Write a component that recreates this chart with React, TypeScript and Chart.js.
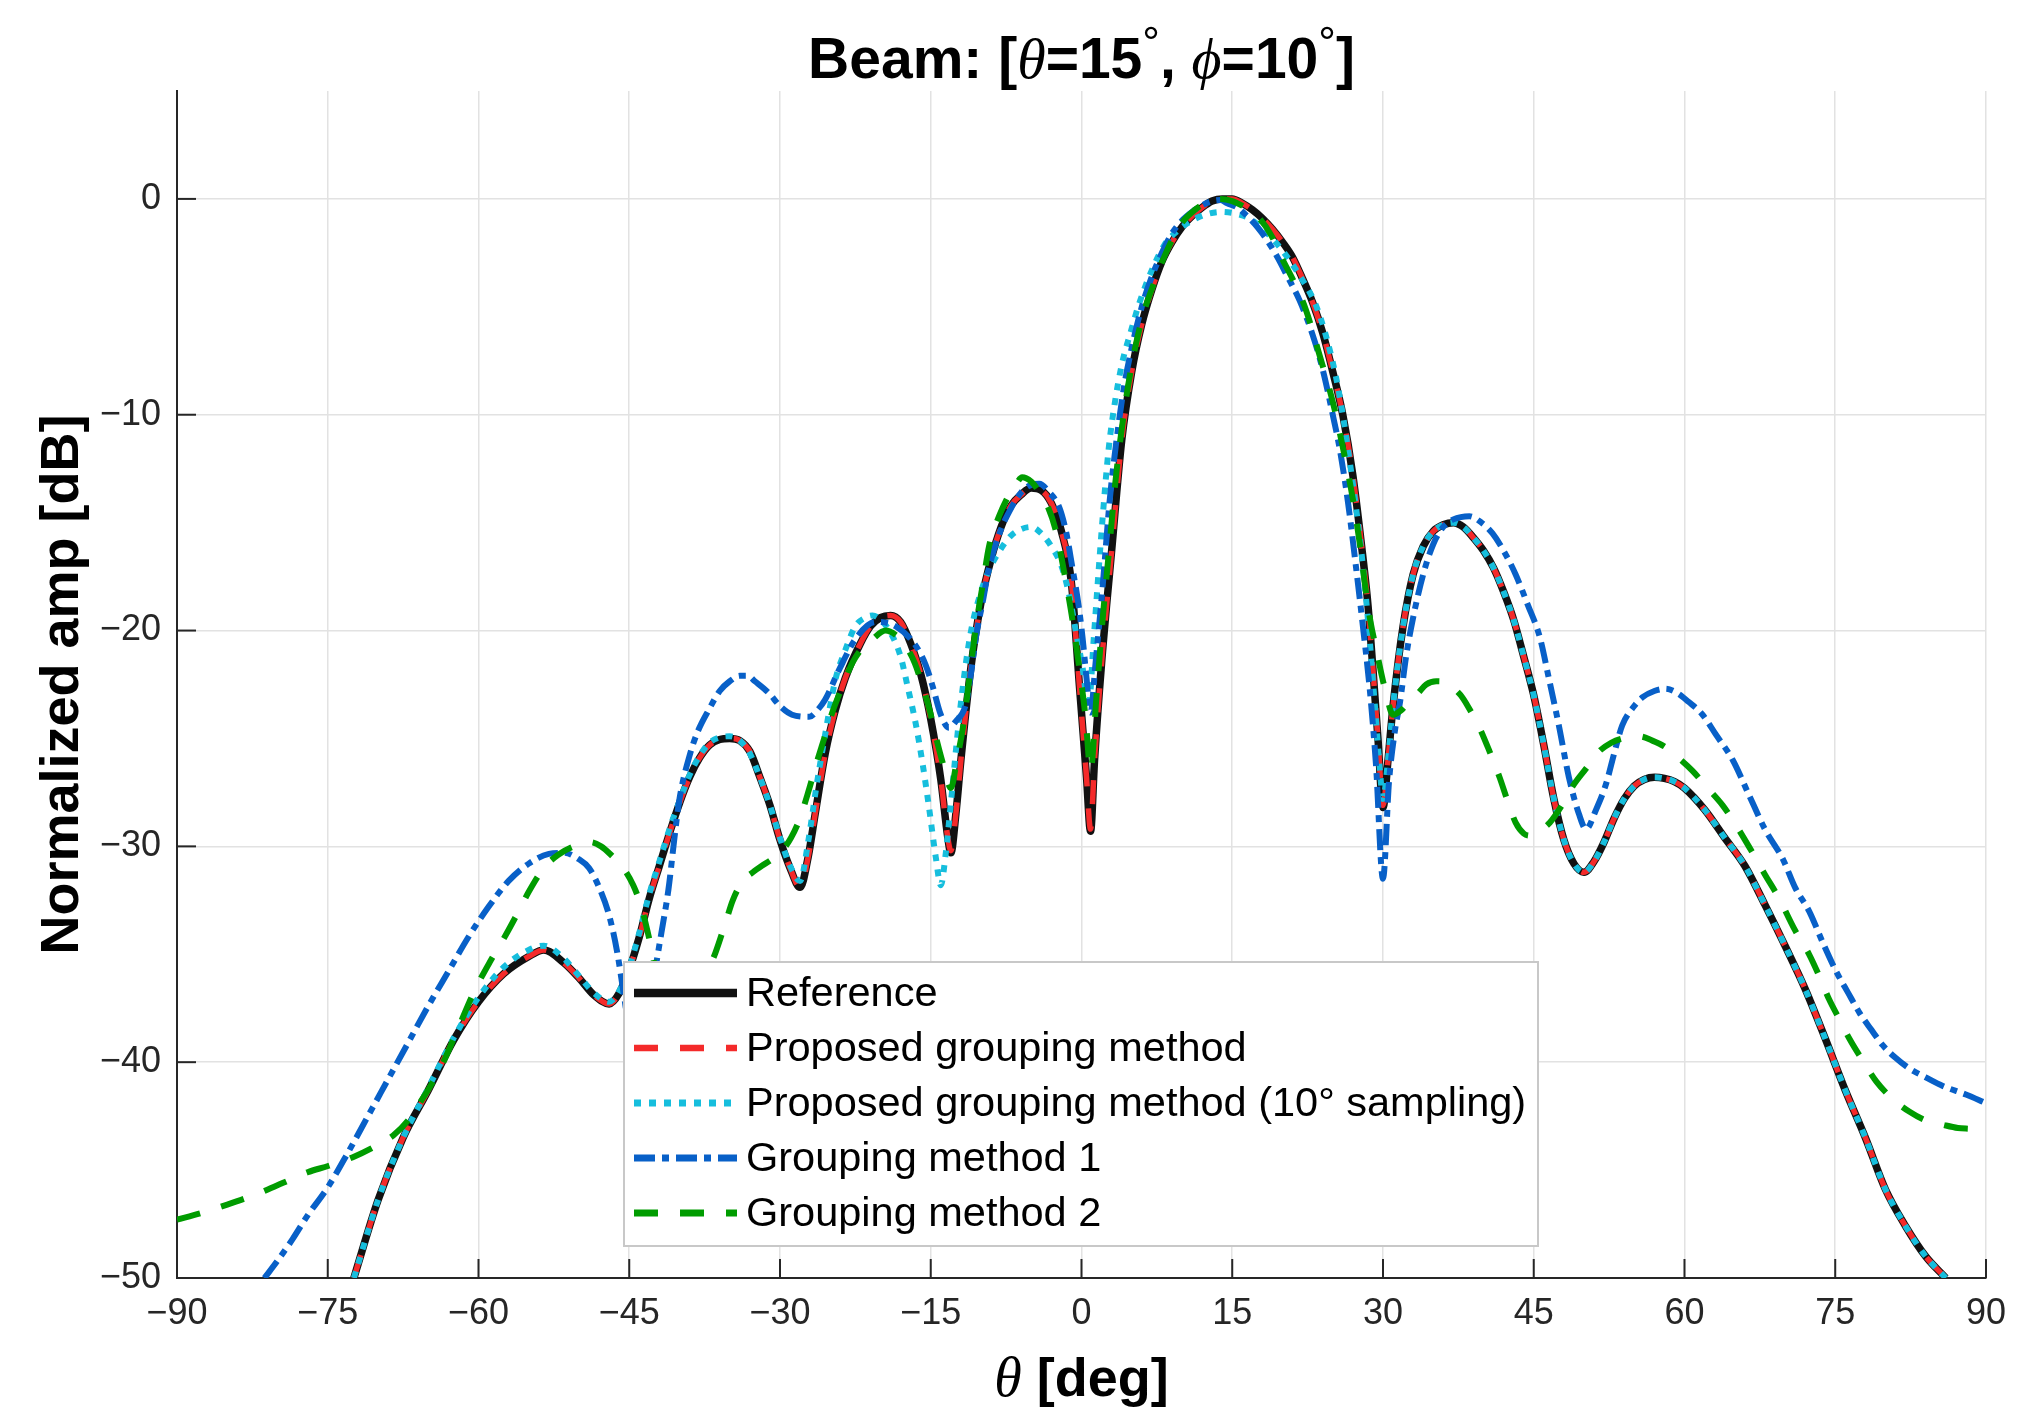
import React, { useEffect, useRef } from "react";
import { Chart, registerables } from "chart.js";
import type { Plugin } from "chart.js";

Chart.register(...registerables);

// axis ticks
const thetaTicks = [-90, -75, -60, -45, -30, -15, 0, 15, 30, 45, 60, 75, 90];
const dbTicks = [-50, -40, -30, -20, -10, 0];

const seriesLabels = [
  "Reference",
  "Proposed grouping method",
  "Proposed grouping method (10° sampling)",
  "Grouping method 1",
  "Grouping method 2",
];

// [theta deg, normalized amp dB]
const referenceCurve = [
  [-72.4, -50], [-70, -46.4], [-67.5, -43.5], [-65, -41.3], [-62.5, -39.0], [-60, -37.2], [-57.5, -35.9], [-55, -35.1],
  [-53.5, -34.8], [-51.5, -35.4], [-50, -36.1], [-48.5, -36.9], [-47, -37.3], [-46, -36.8], [-45, -35.7], [-44, -34.2],
  [-43, -32.4], [-42, -30.9], [-41, -29.4], [-40, -28.0], [-39, -26.8], [-38, -25.9], [-37, -25.3], [-36, -25.05],
  [-35, -25.0], [-34, -25.1], [-33, -25.6], [-32, -26.8], [-31, -28.1], [-30, -29.7], [-29, -31.0], [-28, -31.9],
  [-27.2, -30.5], [-26.5, -28.5], [-25.5, -25.7], [-24.5, -23.7], [-23.5, -22.2], [-22, -20.6], [-21, -19.8], [-20, -19.4],
  [-19, -19.3], [-18, -19.6], [-17, -20.6], [-16, -22.0], [-15, -24.1], [-14, -26.9], [-13.3, -29.6], [-13, -30.3],
  [-12.5, -28.5], [-12, -26.0], [-11, -21.7], [-10, -18.7], [-9, -16.7], [-8, -15.2], [-7, -14.2], [-6, -13.7],
  [-5, -13.4], [-4, -13.5], [-3, -14.1], [-2, -15.4], [-1, -17.8], [-0.2, -22.6], [0.5, -26.8], [0.9, -29.3],
  [1.3, -26.0], [2, -21.5], [3, -16.3], [4, -11.2], [5, -8.0], [6, -5.8], [7, -4.2], [8, -2.9],
  [9, -2.0], [10, -1.3], [11, -0.8], [12, -0.4], [13, -0.1], [14, 0], [15, 0], [16, -0.2],
  [17, -0.5], [18, -0.9], [19, -1.4], [20, -2.0], [21, -2.7], [22, -3.7], [23, -4.8], [24, -6.2],
  [25, -8.0], [26, -10.0], [27, -12.8], [28, -16.6], [28.5, -18.8], [29, -21.8], [29.5, -25.0], [30, -28.2],
  [30.5, -26.0], [31, -23.5], [32, -19.8], [33, -17.4], [34, -16.1], [35, -15.4], [36, -15.1], [37, -15.0],
  [38, -15.2], [39, -15.7], [40, -16.3], [41, -17.1], [42, -18.2], [43, -19.5], [44, -21.2], [45, -23.0],
  [46, -25.3], [47, -27.8], [48, -29.7], [49, -30.8], [50, -31.2], [51, -30.7], [52, -29.8], [53, -28.7],
  [54, -27.8], [55, -27.2], [56, -26.9], [57, -26.8], [58, -26.85], [59, -27.0], [60, -27.3], [62, -28.3],
  [64, -29.6], [66, -30.9], [68, -32.7], [70, -34.6], [72, -36.6], [74, -38.9], [76, -41.3], [78, -43.5],
  [80, -45.9], [82, -47.6], [84, -49.0], [86, -50.0],
];

const proposedCurve = [
  [-72.4, -50], [-70, -46.4], [-67.5, -43.5], [-65, -41.3], [-62.5, -39.0], [-60, -37.2], [-57.5, -35.9], [-55, -35.1],
  [-53.5, -34.8], [-51.5, -35.4], [-50, -36.1], [-48.5, -36.9], [-47, -37.3], [-46, -36.8], [-45, -35.7], [-44, -34.2],
  [-43, -32.4], [-42, -30.9], [-41, -29.4], [-40, -28.0], [-39, -26.8], [-38, -25.9], [-37, -25.3], [-36, -25.05],
  [-35, -25.0], [-34, -25.1], [-33, -25.6], [-32, -26.8], [-31, -28.1], [-30, -29.7], [-29, -31.0], [-28, -31.9],
  [-27.2, -30.5], [-26.5, -28.5], [-25.5, -25.7], [-24.5, -23.7], [-23.5, -22.2], [-22, -20.6], [-21, -19.8], [-20, -19.4],
  [-19, -19.3], [-18, -19.6], [-17, -20.6], [-16, -22.0], [-15, -24.1], [-14, -26.9], [-13.3, -29.6], [-13, -30.2],
  [-12.5, -28.5], [-12, -26.0], [-11, -21.7], [-10, -18.7], [-9, -16.7], [-8, -15.2], [-7, -14.2], [-6, -13.7],
  [-5, -13.4], [-4, -13.5], [-3, -14.1], [-2, -15.4], [-1, -17.8], [-0.2, -22.6], [0.5, -26.8], [0.9, -29.2],
  [1.3, -26.0], [2, -21.5], [3, -16.3], [4, -11.2], [5, -8.0], [6, -5.8], [7, -4.2], [8, -2.9],
  [9, -2.0], [10, -1.3], [11, -0.8], [12, -0.4], [13, -0.1], [14, 0], [15, 0], [16, -0.2],
  [17, -0.5], [18, -0.9], [19, -1.4], [20, -2.0], [21, -2.7], [22, -3.7], [23, -4.8], [24, -6.2],
  [25, -8.0], [26, -10.0], [27, -12.8], [28, -16.6], [28.5, -18.8], [29, -21.8], [29.5, -25.0], [30, -28.1],
  [30.5, -26.0], [31, -23.5], [32, -19.8], [33, -17.4], [34, -16.1], [35, -15.4], [36, -15.1], [37, -15.0],
  [38, -15.2], [39, -15.7], [40, -16.3], [41, -17.1], [42, -18.2], [43, -19.5], [44, -21.2], [45, -23.0],
  [46, -25.3], [47, -27.8], [48, -29.7], [49, -30.8], [50, -31.2], [51, -30.7], [52, -29.8], [53, -28.7],
  [54, -27.8], [55, -27.2], [56, -26.9], [57, -26.8], [58, -26.85], [59, -27.0], [60, -27.3], [62, -28.3],
  [64, -29.6], [66, -30.9], [68, -32.7], [70, -34.6], [72, -36.6], [74, -38.9], [76, -41.3], [78, -43.5],
  [80, -45.9], [82, -47.6], [84, -49.0], [86, -50.0],
];

const sampled10Curve = [
  [-72.4, -50], [-70, -46.4], [-67.5, -43.5], [-65, -41.2], [-62.5, -38.9], [-60, -37.0], [-57.5, -35.6], [-55, -34.8],
  [-53.5, -34.6], [-51.5, -35.2], [-50, -36.0], [-48.5, -36.8], [-47, -37.2], [-46, -36.7], [-45, -35.6], [-44, -34.0],
  [-43, -32.2], [-42, -30.7], [-41, -29.2], [-40, -27.9], [-39, -26.7], [-38, -25.8], [-37, -25.2], [-36, -24.95],
  [-35, -24.9], [-34, -25.1], [-33, -25.7], [-32, -26.8], [-31, -28.1], [-30, -29.6], [-29, -30.9], [-28, -31.6],
  [-27.2, -29.8], [-26.4, -27.3], [-25.5, -24.8], [-24.5, -22.3], [-23.5, -20.9], [-22.5, -19.8], [-21.5, -19.4], [-20.8, -19.3],
  [-20, -19.5], [-19, -20.1], [-18, -21.2], [-17.3, -22.6], [-16.5, -24.3], [-15.8, -26.2], [-15.2, -28.1], [-14.5, -30.5],
  [-14, -31.8], [-13.5, -30.3], [-13, -28.0], [-12.2, -24.2], [-11.5, -21.5], [-10.9, -19.8], [-10, -18.2], [-9.2, -17.2],
  [-8, -16.2], [-7, -15.6], [-6, -15.3], [-5, -15.2], [-4, -15.5], [-3, -16.1], [-2, -17.0], [-1.2, -18.4],
  [-0.5, -20.2], [0.1, -21.7], [0.7, -23.6], [1.2, -20.5], [1.6, -17.9], [2.1, -14.8], [2.7, -11.6], [3.3, -9.5],
  [4, -7.7], [5, -6.0], [5.7, -4.9], [7, -3.3], [8.3, -2.1], [9.5, -1.5], [11, -1.0], [12.5, -0.7],
  [14, -0.6], [15.5, -0.7], [16.7, -0.9], [18.5, -1.6], [20, -2.4], [21.5, -3.4], [23.3, -4.9], [24.3, -6.3],
  [25.3, -8.2], [26, -10.0], [26.7, -12.2], [27.4, -14.6], [28, -17.0], [28.6, -20.0], [29.2, -23.5], [29.7, -26.5],
  [30, -27.8], [30.5, -26.0], [31, -23.5], [32, -19.8], [33, -17.4], [34, -16.1], [35, -15.4], [36, -15.1],
  [37, -15.0], [38, -15.2], [39, -15.7], [40, -16.3], [41, -17.1], [42, -18.2], [43, -19.5], [44, -21.2],
  [45, -23.0], [46, -25.3], [47, -27.8], [48, -29.7], [49, -30.8], [50, -31.2], [51, -30.7], [52, -29.8],
  [53, -28.7], [54, -27.8], [55, -27.2], [56, -26.9], [57, -26.8], [58, -26.85], [59, -27.0], [60, -27.3],
  [62, -28.3], [64, -29.6], [66, -30.9], [68, -32.7], [70, -34.6], [72, -36.6], [74, -38.9], [76, -41.3],
  [78, -43.5], [80, -45.9], [82, -47.6], [84, -49.0], [86, -50.0],
];

const method1Curve = [
  [-81.3, -50], [-80, -49.2], [-78.5, -48.2], [-77, -47.1], [-75, -45.8], [-73, -44.2], [-71, -42.5], [-69, -40.8],
  [-67, -39.1], [-65, -37.4], [-63, -35.8], [-61, -34.2], [-59, -32.8], [-57, -31.6], [-55, -30.8], [-53, -30.35],
  [-51.5, -30.3], [-50, -30.6], [-49, -31.0], [-48, -31.9], [-47, -33.2], [-46.2, -34.9], [-45.5, -37.0], [-45, -38.5],
  [-44.3, -39.8], [-43.5, -38.5], [-42.6, -36.2], [-41.8, -34.0], [-41.1, -32.0], [-40.5, -29.6], [-40, -27.8], [-39, -25.8],
  [-38.2, -24.7], [-37, -23.6], [-36, -22.8], [-35, -22.35], [-34, -22.1], [-33.2, -22.1], [-32.5, -22.35], [-31.1, -22.9],
  [-30, -23.5], [-28.8, -23.9], [-27.1, -24.0], [-26.3, -23.7], [-25.5, -23.2], [-24.1, -21.8], [-22.5, -20.4], [-20.5, -19.6],
  [-18.5, -19.8], [-16.5, -20.7], [-15.5, -21.6], [-14.8, -22.6], [-14, -23.9], [-13.2, -24.5], [-12.5, -24.2], [-11.5, -23.4],
  [-11, -22.0], [-10.5, -20.3], [-9.8, -18.6], [-9.2, -17.1], [-8, -15.3], [-7.2, -14.5], [-6, -13.6], [-5, -13.25],
  [-4.2, -13.2], [-3.2, -13.6], [-2.2, -14.3], [-1.5, -15.5], [-0.9, -17.1], [-0.3, -18.8], [0.1, -20.3], [0.5, -22.2],
  [0.9, -23.8], [1.4, -21.5], [2.1, -18.0], [2.8, -14.0], [3.4, -11.5], [4.2, -8.8], [5, -6.9], [6, -5.0],
  [7, -3.6], [8, -2.5], [9, -1.6], [10, -1.0], [11, -0.6], [12, -0.3], [13, -0.1], [13.8, -0.05],
  [14.5, -0.2], [15.5, -0.4], [16.5, -0.8], [17.5, -1.3], [18.3, -1.8], [19.5, -2.7], [20.5, -3.6], [21.7, -4.7],
  [23, -6.3], [24, -7.9], [25, -10.0], [25.7, -11.6], [26.5, -14.0], [27.3, -17.0], [28, -19.8], [28.7, -22.8],
  [29.3, -26.2], [30, -31.5], [30.6, -27.0], [31.2, -24.6], [31.7, -23.3], [32.3, -21.2], [33, -19.4], [34, -17.4],
  [35, -16.0], [36, -15.2], [37, -14.85], [38.6, -14.7], [39.8, -15.0], [40.9, -15.5], [42, -16.3], [43.2, -17.4],
  [44.4, -18.8], [45.6, -20.3], [46.5, -22.2], [47.5, -24.4], [48.5, -26.8], [49.5, -28.5], [50.2, -29.2], [51.2, -28.3],
  [52.2, -27.1], [53, -25.7], [53.8, -24.4], [55, -23.5], [55.8, -23.1], [57, -22.8], [58.1, -22.7], [59.3, -22.9],
  [60.4, -23.3], [61.8, -23.9], [63.1, -24.8], [64.8, -26.0], [66.4, -27.6], [68, -29.2], [69.8, -30.6], [71, -31.9],
  [72.4, -33.0], [73.8, -34.5], [75.1, -35.8], [76.3, -36.8], [77.4, -37.7], [78.6, -38.5], [79.7, -39.2], [81, -39.8],
  [82.4, -40.3], [84, -40.7], [85.7, -41.1], [88, -41.5], [90, -41.9],
];

const method2Curve = [
  [-90, -47.3], [-87.7, -47.0], [-85, -46.6], [-82, -46.1], [-79.5, -45.6], [-77, -45.1], [-74.9, -44.8], [-72.5, -44.4],
  [-70.3, -43.9], [-68.5, -43.4], [-67, -42.7], [-66, -42.0], [-64.9, -41.2], [-63.5, -40.0], [-62, -38.4], [-60.3, -36.6],
  [-58.8, -35.3], [-57.4, -34.2], [-56, -33.0], [-55, -32.1], [-53.5, -31.0], [-52.1, -30.4], [-50.5, -30.0], [-48.9, -29.8],
  [-47.8, -30.0], [-46.8, -30.4], [-45.6, -31.0], [-44.6, -31.8], [-43.8, -32.8], [-43.2, -33.9], [-42.6, -35.2], [-42, -37.0],
  [-41.2, -40.0], [-40.3, -42.5], [-39.5, -41.0], [-38.7, -38.5], [-37.6, -36.3], [-36.4, -34.9], [-35.4, -33.5], [-34.7, -32.5],
  [-33.7, -31.6], [-32.7, -31.2], [-31.8, -30.9], [-30.8, -30.6], [-29.8, -30.2], [-28.9, -29.6], [-28.1, -28.8], [-27.2, -27.5],
  [-26.4, -26.2], [-25.6, -25.0], [-24.8, -23.8], [-23.8, -22.6], [-22.8, -21.5], [-21.8, -20.8], [-20.8, -20.4], [-19.5, -20.0],
  [-18.5, -20.2], [-17.5, -20.7], [-16.6, -21.5], [-15.8, -22.6], [-15.1, -23.7], [-14.5, -24.9], [-13.7, -26.3], [-13, -27.3],
  [-12.4, -26.0], [-11.8, -24.5], [-11.1, -22.0], [-10.5, -19.8], [-9.8, -17.8], [-9.2, -16.1], [-8.2, -14.7], [-7.2, -13.7],
  [-6.5, -13.2], [-5.9, -12.9], [-5, -13.1], [-4.3, -13.5], [-3.6, -14.0], [-2.6, -15.3], [-1.6, -17.6], [-0.9, -19.5],
  [-0.2, -21.8], [0.4, -24.0], [0.9, -26.5], [1.5, -23.0], [2.1, -19.5], [2.8, -16.0], [3.4, -13.0], [4.2, -10.0],
  [5, -7.7], [6, -5.6], [7.3, -3.8], [8.6, -2.3], [10, -1.1], [11.3, -0.5], [12.5, -0.15], [13.8, 0],
  [15, -0.1], [16.3, -0.4], [17.7, -0.9], [18.9, -1.7], [20, -2.8], [21.2, -3.9], [22.3, -5.1], [23.6, -7.1],
  [25, -9.4], [26, -11.5], [27, -13.9], [27.7, -16.0], [28.3, -18.2], [28.8, -19.7], [29.3, -20.8], [29.7, -21.7],
  [30.3, -22.9], [31, -23.9], [31.8, -23.7], [32.6, -23.3], [33.5, -22.9], [34.3, -22.5], [35.3, -22.35], [36.3, -22.4],
  [37.1, -22.7], [37.9, -23.1], [38.8, -23.8], [39.6, -24.5], [40.6, -25.6], [41.6, -26.8], [42.4, -27.9], [43.2, -28.9],
  [44, -29.4], [44.6, -29.5], [45.5, -29.3], [46.6, -28.9], [47.8, -28.1], [48.9, -27.2], [50.2, -26.4], [51.5, -25.6],
  [52.7, -25.2], [53.8, -25.0], [55.5, -24.9], [56.8, -25.1], [58.1, -25.4], [59.4, -25.9], [60.8, -26.5], [62.3, -27.3],
  [63.8, -28.1], [65.1, -29.0], [66.4, -30.0], [68, -31.3], [69.4, -32.4], [70.9, -33.8], [72.4, -35.0], [73.4, -36.0],
  [74.4, -37.1], [75.4, -38.0], [76.4, -38.9], [77.7, -39.9], [79.1, -40.9], [80.7, -41.7], [82.4, -42.3], [84, -42.7],
  [85.7, -42.9], [87.2, -43.05], [88.7, -43.1], [90, -43.2],
];

const curves = [referenceCurve, proposedCurve, sampled10Curve, method1Curve, method2Curve];

const SANS = '"Liberation Sans", Arial, Helvetica, sans-serif';
const SERIF = '"Liberation Serif", "Times New Roman", serif';
const AXIS_COLOR = "#262626";

const lineStyles = [
  { color: "#111111", width: 7.5, dash: [] as number[] },
  { color: "#f42a2a", width: 5.5, dash: [24, 22] },
  { color: "#16bedd", width: 6, dash: [7, 8] },
  { color: "#0860c8", width: 6, dash: [21, 7, 7, 7] },
  { color: "#009c00", width: 6, dash: [24, 22] },
];

const fmt = (v: number) => String(v).replace("-", "\u2212");

type Part = { text: string; font: string; dy?: number };

function drawParts(ctx: CanvasRenderingContext2D, parts: Part[], cx: number, baseline: number) {
  let total = 0;
  for (const p of parts) {
    ctx.font = p.font;
    total += ctx.measureText(p.text).width;
  }
  let x = cx - total / 2;
  ctx.textAlign = "left";
  ctx.textBaseline = "alphabetic";
  for (const p of parts) {
    ctx.font = p.font;
    ctx.fillText(p.text, x, baseline + (p.dy || 0));
    x += ctx.measureText(p.text).width;
  }
}

// matlab-style inward tick marks
const inwardTicks: Plugin<"line"> = {
  id: "inwardTicks",
  beforeDatasetsDraw(chart) {
    const { ctx, chartArea: a, scales } = chart;
    ctx.save();
    ctx.strokeStyle = AXIS_COLOR;
    ctx.lineWidth = 2;
    for (const v of thetaTicks) {
      const x = scales.x.getPixelForValue(v);
      ctx.beginPath();
      ctx.moveTo(x, a.bottom);
      ctx.lineTo(x, a.bottom - 19);
      ctx.stroke();
    }
    for (const v of dbTicks) {
      const y = scales.y.getPixelForValue(v);
      ctx.beginPath();
      ctx.moveTo(a.left, y);
      ctx.lineTo(a.left + 19, y);
      ctx.stroke();
    }
    ctx.restore();
  },
};

// titles + legend box drawn on top
const decorations: Plugin<"line"> = {
  id: "decorations",
  afterDraw(chart) {
    const { ctx, chartArea: a } = chart;
    const cx = (a.left + a.right) / 2;
    ctx.save();
    ctx.fillStyle = "#000";

    const bold = `bold 57px ${SANS}`;
    const greek = `italic 58px ${SERIF}`;
    const deg = `44px ${SANS}`;
    drawParts(
      ctx,
      [
        { text: "Beam: [", font: bold },
        { text: "θ", font: greek },
        { text: "=15", font: bold },
        { text: "°", font: deg, dy: -20 },
        { text: ", ", font: bold },
        { text: "ϕ", font: greek },
        { text: "=10", font: bold },
        { text: "°", font: deg, dy: -20 },
        { text: "]", font: bold },
      ],
      cx,
      78
    );

    drawParts(
      ctx,
      [
        { text: "θ", font: `italic 56px ${SERIF}` },
        { text: " [deg]", font: `bold 54px ${SANS}` },
      ],
      cx,
      1396
    );

    ctx.save();
    ctx.translate(78, (a.top + a.bottom) / 2);
    ctx.rotate(-Math.PI / 2);
    ctx.font = `bold 54px ${SANS}`;
    ctx.textAlign = "center";
    ctx.textBaseline = "alphabetic";
    ctx.fillText("Normalized amp [dB]", 0, 0);
    ctx.restore();

    // legend
    const box = { left: 624, top: 962, right: 1538, bottom: 1246 };
    ctx.fillStyle = "#ffffff";
    ctx.fillRect(box.left, box.top, box.right - box.left, box.bottom - box.top);
    ctx.strokeStyle = "#c8c8c8";
    ctx.lineWidth = 2;
    ctx.strokeRect(box.left, box.top, box.right - box.left, box.bottom - box.top);
    ctx.font = `41.5px ${SANS}`;
    ctx.textAlign = "left";
    ctx.textBaseline = "middle";
    seriesLabels.forEach((label, i) => {
      const y = 993 + i * 55;
      const st = lineStyles[i];
      ctx.save();
      ctx.strokeStyle = st.color;
      ctx.lineWidth = st.width + 1;
      ctx.setLineDash(st.dash);
      ctx.lineCap = "butt";
      ctx.beginPath();
      ctx.moveTo(634, y);
      ctx.lineTo(737, y);
      ctx.stroke();
      ctx.restore();
      ctx.fillStyle = "#000";
      ctx.fillText(label, 746, y + 2);
    });
    ctx.restore();
  },
};

export default function App() {
  const canvasRef = useRef<HTMLCanvasElement | null>(null);

  useEffect(() => {
    if (!canvasRef.current) return;
    const ctx = canvasRef.current.getContext("2d");
    if (!ctx) return;

    const order = [5, 4, 3, 2, 1]; // later series drawn on top
    const chart = new Chart(ctx, {
      type: "line",
      data: {
        datasets: curves.map((curve, i) => ({
          label: seriesLabels[i],
          data: curve.map(([x, y]) => ({ x, y })),
          borderColor: lineStyles[i].color,
          borderWidth: lineStyles[i].width,
          borderDash: lineStyles[i].dash,
          borderCapStyle: "butt" as const,
          borderJoinStyle: "round" as const,
          pointRadius: 0,
          fill: false,
          cubicInterpolationMode: "monotone" as const,
          order: order[i],
        })),
      },
      options: {
        animation: false,
        responsive: true,
        maintainAspectRatio: false,
        devicePixelRatio: 1,
        events: [],
        layout: { padding: { top: 91, right: 28, left: 0, bottom: 0 } },
        plugins: {
          legend: { display: false },
          tooltip: { enabled: false },
          title: { display: false },
        },
        scales: {
          x: {
            type: "linear",
            min: -90,
            max: 90,
            afterFit: (s: any) => {
              s.height = 146;
            },
            afterBuildTicks: (s: any) => {
              s.ticks = thetaTicks.map((v) => ({ value: v }));
            },
            ticks: {
              autoSkip: false,
              maxRotation: 0,
              padding: 14,
              color: AXIS_COLOR,
              font: { family: SANS, size: 36 },
              callback: (v: any) => fmt(Number(v)),
            },
            grid: { color: "#e2e2e2", lineWidth: 1.5, drawTicks: false },
            border: { display: true, color: AXIS_COLOR, width: 2 },
          },
          y: {
            type: "linear",
            min: -50,
            max: 5,
            afterFit: (s: any) => {
              s.width = 177;
            },
            afterBuildTicks: (s: any) => {
              s.ticks = dbTicks.map((v) => ({ value: v }));
            },
            ticks: {
              padding: 16,
              color: AXIS_COLOR,
              font: { family: SANS, size: 36 },
              callback: (v: any) => fmt(Number(v)),
            },
            grid: { color: "#e2e2e2", lineWidth: 1.5, drawTicks: false },
            border: { display: true, color: AXIS_COLOR, width: 2 },
          },
        },
      },
      plugins: [inwardTicks, decorations],
    });

    return () => {
      chart.destroy();
    };
  }, []);

  return (
    <div style={{ position: "fixed", left: 0, top: 0, width: 2020, height: 1424, background: "#fff" }}>
      <canvas ref={canvasRef}></canvas>
    </div>
  );
}
